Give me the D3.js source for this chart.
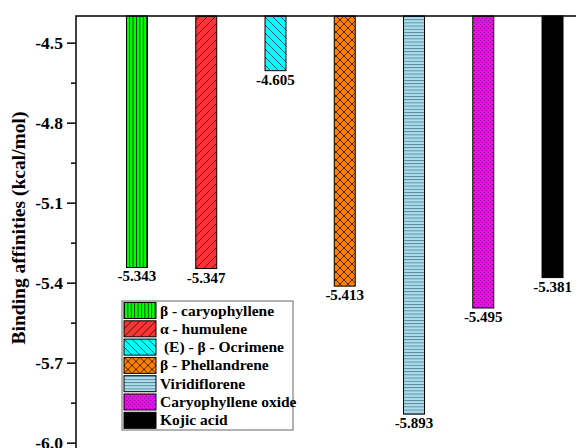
<!DOCTYPE html>
<html>
<head>
<meta charset="utf-8">
<script src="https://cdn.jsdelivr.net/npm/d3@7"></script>
<style>
  body { margin: 0; background: #fff; }
  svg text { font-family: "Liberation Serif", "DejaVu Serif", serif; font-weight: bold; fill: #000; }
</style>
</head>
<body>
<div id="chart"></div>
<script>
// compounds, in drawing order
var compounds = ["β - caryophyllene", "α - humulene", " (E) - β - Ocrimene", "β - Phellandrene",
  "Viridiflorene", "Caryophyllene oxide", "Kojic acid"];
// binding affinity of each compound (kcal/mol)
var affinities = [-5.343, -5.347, -4.605, -5.413, -5.893, -5.495, -5.381];
var valueLabels = ["-5.343", "-5.347", "-4.605", "-5.413", "-5.893", "-5.495", "-5.381"];
// y axis ticks
var majorTicks = [-4.5, -4.8, -5.1, -5.4, -5.7, -6.0];
var minorTicks = [-4.65, -4.95, -5.25, -5.55, -5.85];

var fills = ["pGreen", "pRed", "pCyan", "pOrange", "pBlue", "pMagenta", "pBlack"];

var width = 576, height = 448;

var svg = d3.select("#chart").append("svg")
  .attr("width", width)
  .attr("height", height);

// hatch patterns like the origin plot
var defs = svg.append("defs");

function pattern(id, w, h, bg) {
  var p = defs.append("pattern")
    .attr("id", id)
    .attr("patternUnits", "userSpaceOnUse")
    .attr("width", w)
    .attr("height", h);
  p.append("rect").attr("width", w).attr("height", h).attr("fill", bg);
  return p;
}

pattern("pGreen", 3.4, 10, "#00ff00")
  .append("line").attr("x1", 0.5).attr("x2", 0.5).attr("y1", 0).attr("y2", 10)
  .attr("stroke", "#000").attr("stroke-width", 0.8);

pattern("pRed", 8, 8, "#ff3333")
  .append("path").attr("d", "M-2,2L2,-2M0,8L8,0M6,10L10,6")
  .attr("stroke", "#000").attr("stroke-width", 0.7);

pattern("pCyan", 8, 8, "#00ffff")
  .append("path").attr("d", "M-2,6L2,10M0,0L8,8M6,-2L10,2")
  .attr("stroke", "#000").attr("stroke-width", 0.7);

pattern("pOrange", 8, 8, "#ff8000")
  .append("path").attr("d", "M-2,2L2,-2M0,8L8,0M6,10L10,6M-2,6L2,10M0,0L8,8M6,-2L10,2")
  .attr("stroke", "#000").attr("stroke-width", 0.7);

pattern("pBlue", 10, 3.2, "#a9dff0")
  .append("line").attr("x1", 0).attr("x2", 10).attr("y1", 0.5).attr("y2", 0.5)
  .attr("stroke", "#4a6a78").attr("stroke-width", 0.8);

var pm = pattern("pMagenta", 4, 4, "#ff00ff");
pm.append("rect").attr("x", 0).attr("y", 0).attr("width", 1).attr("height", 1).attr("fill", "#800080");
pm.append("rect").attr("x", 2).attr("y", 2).attr("width", 1).attr("height", 1).attr("fill", "#800080");

pattern("pBlack", 4, 4, "#000");

// scales
var plotLeft = 76, plotTop = 16;
var y = d3.scaleLinear()
  .domain([-4.4, -6.1])
  .range([plotTop, plotTop + 1.7 * 266.67]);

var x = d3.scaleBand()
  .domain(compounds)
  .range([102.35, 587.15])
  .paddingInner(0.697)
  .paddingOuter(0.3485);

// bars hang from the top of the frame
svg.append("g").selectAll("rect")
  .data(compounds)
  .enter().append("rect")
    .attr("x", function (d) { return x(d); })
    .attr("y", y(-4.4))
    .attr("width", x.bandwidth())
    .attr("height", function (d, i) { return y(affinities[i]) - y(-4.4); })
    .attr("fill", function (d, i) { return "url(#" + fills[i] + ")"; })
    .attr("stroke", "#000")
    .attr("stroke-width", 1);

// value labels under bars
svg.append("g").selectAll("text")
  .data(compounds)
  .enter().append("text")
    .attr("x", function (d) { return x(d) + x.bandwidth() / 2; })
    .attr("y", function (d, i) { return y(affinities[i]) + 14; })
    .attr("text-anchor", "middle")
    .style("font-size", "15px")
    .text(function (d, i) { return valueLabels[i]; });

// frame
svg.append("rect")
  .attr("x", plotLeft)
  .attr("y", plotTop)
  .attr("width", 600 - plotLeft)
  .attr("height", y(-6.1) - plotTop)
  .attr("fill", "none")
  .attr("stroke", "#000")
  .attr("stroke-width", 1.5);

// y axis
var yAxis = d3.axisLeft(y)
  .tickValues(majorTicks)
  .tickSize(9)
  .tickPadding(4)
  .tickFormat(function (d) { return d.toFixed(1); });

var gy = svg.append("g")
  .attr("transform", "translate(" + plotLeft + ",0)")
  .call(yAxis);
gy.select(".domain").remove();
gy.selectAll(".tick line").attr("stroke-width", 1.5);
gy.selectAll(".tick text").style("font-size", "17.5px").style("font-family", null);

var gyMinor = svg.append("g")
  .attr("transform", "translate(" + plotLeft + ",0)")
  .call(d3.axisLeft(y).tickValues(minorTicks).tickSize(5).tickFormat(""));
gyMinor.select(".domain").remove();
gyMinor.selectAll(".tick line").attr("stroke-width", 1.5);

// axis title
svg.append("text")
  .attr("text-anchor", "middle")
  .attr("transform", "translate(25," + 228 + ")rotate(-90)")
  .style("font-size", "19.5px")
  .text("Binding affinities (kcal/mol)");

// legend
var legend = svg.append("g").attr("transform", "translate(122,301)");
legend.append("rect")
  .attr("width", 171)
  .attr("height", 129)
  .attr("fill", "#fff")
  .attr("stroke", "#666")
  .attr("stroke-width", 1);

var rows = legend.selectAll("g.row")
  .data(compounds)
  .enter().append("g")
    .attr("class", "row")
    .attr("transform", function (d, i) { return "translate(2," + (1.5 + i * 18.3) + ")"; });

rows.append("rect")
  .attr("width", 32)
  .attr("height", 16)
  .attr("fill", function (d, i) { return "url(#" + fills[i] + ")"; })
  .attr("stroke", "#000")
  .attr("stroke-width", 1);

rows.append("text")
  .attr("x", 36)
  .attr("y", 13)
  .style("font-size", "15.5px")
  .style("white-space", "pre")
  .text(function (d) { return d; });
</script>
</body>
</html>
